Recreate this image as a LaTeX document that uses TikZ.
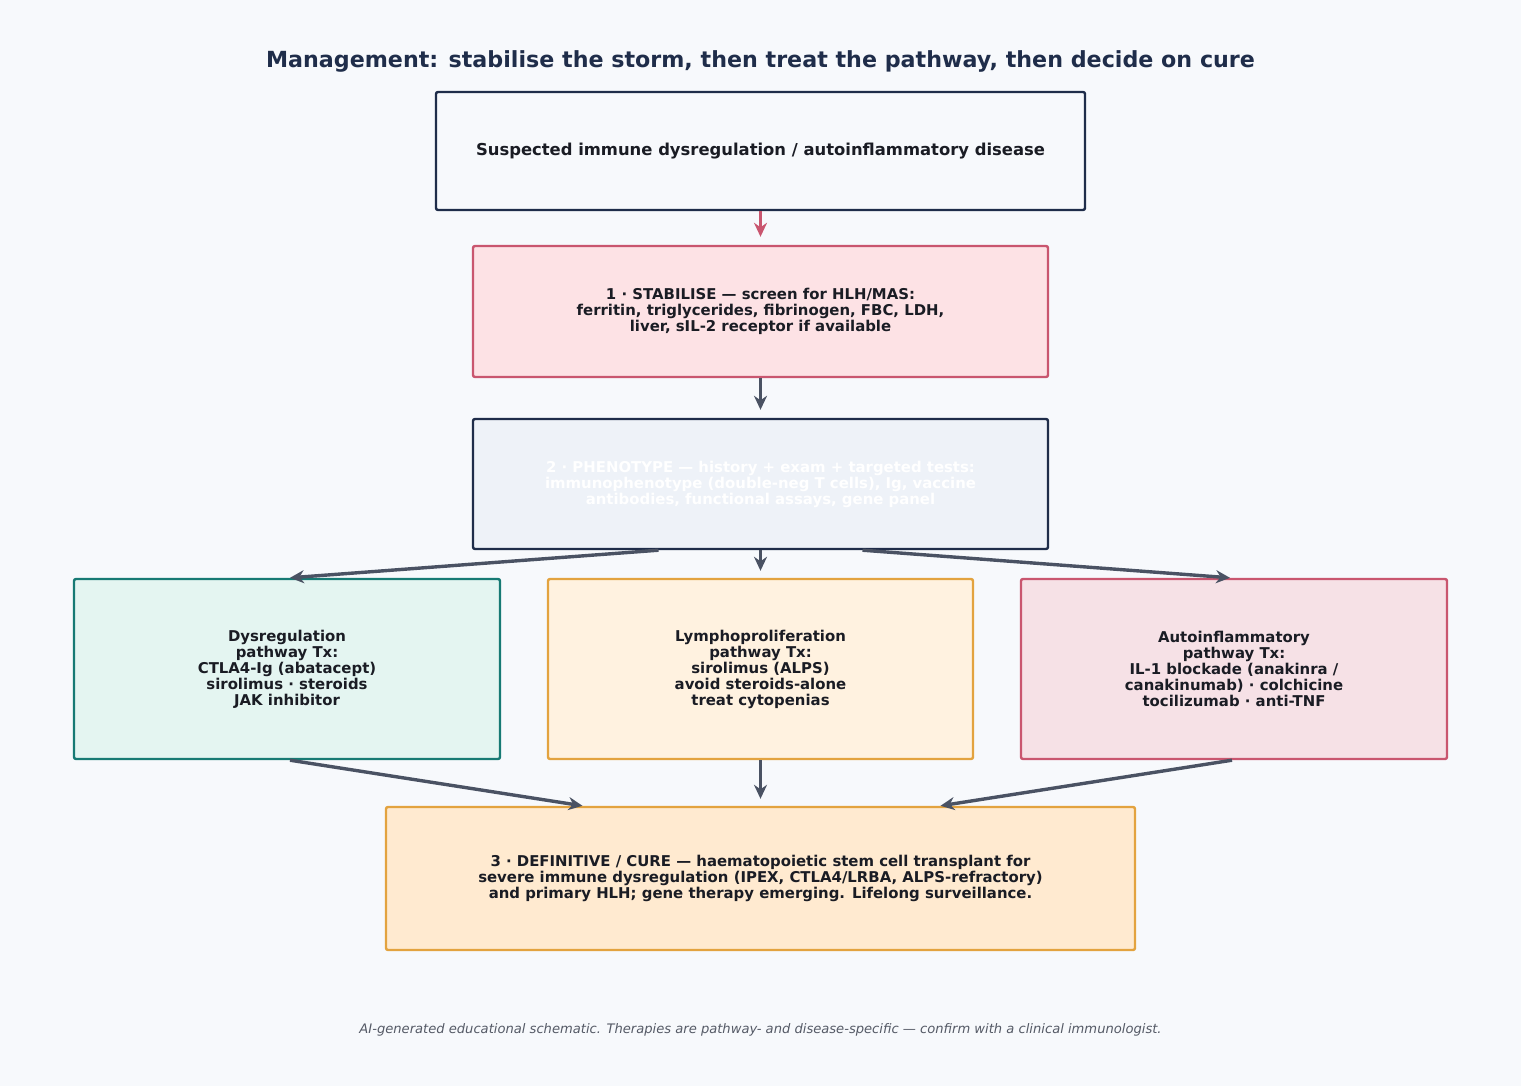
\documentclass[tikz,border=0pt]{standalone}
\usepackage{fontspec}
\setmainfont{DejaVu Sans}
\usetikzlibrary{arrows.meta}
\definecolor{pagebg}{HTML}{F7F9FC}
\definecolor{navy}{HTML}{1F2D4A}
\definecolor{inktext}{HTML}{1A1C24}
\definecolor{rosebd}{HTML}{C9566F}
\definecolor{rosefill}{HTML}{FDE2E5}
\definecolor{phenofill}{HTML}{EEF2F8}
\definecolor{tealbd}{HTML}{177A74}
\definecolor{tealfill}{HTML}{E4F5F1}
\definecolor{amberbd}{HTML}{E3A33F}
\definecolor{amberfill}{HTML}{FFF2E0}
\definecolor{pinkfill}{HTML}{F6E1E6}
\definecolor{curefill}{HTML}{FFEAD0}
\definecolor{arrowgrey}{HTML}{4A5263}
\definecolor{footgrey}{HTML}{555A66}

\begin{document}
\begin{tikzpicture}[
x=0.5pt, y=-0.5pt,
box/.style={rectangle,draw,rounded corners=1pt,line width=1.2pt,align=center,
  inner sep=0pt,font=\fontsize{7.45}{8}\bfseries\selectfont,text=inktext},
flow/.style={-{Stealth[length=7pt,width=6.5pt]},line width=1.7pt,draw=arrowgrey}
]

\fill[pagebg] (0,0) rectangle (1521,1086);

\node[font=\fontsize{11.1}{13}\bfseries\selectfont,text=navy] (title) at (760.5,61)
  {Management: stabilise the storm, then treat the pathway, then decide on cure};

\node[box, draw=navy, fill=pagebg, font=\fontsize{8.2}{9}\bfseries\selectfont,
  minimum width=324.5pt, minimum height=59pt] (suspected) at (760.5,151)
  {Suspected immune dysregulation / autoinflammatory disease};
\node[box, draw=rosebd, fill=rosefill, minimum width=287.5pt, minimum height=65.5pt] (stabilise) at (760.5,311.5)
  {1 · STABILISE — screen for HLH/MAS:\\ferritin, triglycerides, fibrinogen, FBC, LDH,\\liver, sIL-2 receptor if available};
\node[box, draw=navy, fill=phenofill, text=white, minimum width=287.5pt, minimum height=65pt] (phenotype) at (760.5,484)
  {2 · PHENOTYPE — history + exam + targeted tests:\\immunophenotype (double-neg T cells), Ig, vaccine\\antibodies, functional assays, gene panel};

\node[box, draw=tealbd, fill=tealfill, minimum width=213pt, minimum height=90pt] (dysreg) at (287,669)
  {Dysregulation\\pathway Tx:\\CTLA4-Ig (abatacept)\\sirolimus · steroids\\JAK inhibitor};
\node[box, draw=amberbd, fill=amberfill, minimum width=212.5pt, minimum height=90pt] (lympho) at (760.5,669)
  {Lymphoproliferation\\pathway Tx:\\sirolimus (ALPS)\\avoid steroids-alone\\treat cytopenias};
\node[box, draw=rosebd, fill=pinkfill, minimum width=213pt, minimum height=90pt] (autoinfl) at (1234,669)
  {Autoinflammatory\\pathway Tx:\\IL-1 blockade (anakinra /\\canakinumab) · colchicine\\tocilizumab · anti-TNF};

\node[box, draw=amberbd, fill=curefill, minimum width=374.5pt, minimum height=71.5pt] (definitive) at (760.5,878.5)
  {3 · DEFINITIVE / CURE — haematopoietic stem cell transplant for\\severe immune dysregulation (IPEX, CTLA4/LRBA, ALPS-refractory)\\and primary HLH; gene therapy emerging. Lifelong surveillance.};

\node[font=\fontsize{6.55}{7.5}\itshape\selectfont,text=footgrey] (footer) at (760.5,1030)
  {AI-generated educational schematic. Therapies are pathway- and disease-specific — confirm with a clinical immunologist.};

\draw[flow, draw=rosebd, line width=1.4pt, shorten >=4pt] (suspected) -- (stabilise);
\draw[flow, shorten >=4pt] (stabilise) -- (phenotype);
\draw[flow] ([xshift=-51pt]phenotype.south) -- ([xshift=1.5pt]dysreg.north);
\draw[flow, shorten >=3.5pt] (phenotype) -- (lympho);
\draw[flow] ([xshift=51pt]phenotype.south) -- ([xshift=-2pt]autoinfl.north);
\draw[flow] ([xshift=1.5pt]dysreg.south) -- ([xshift=-89pt]definitive.north);
\draw[flow, shorten >=3.5pt] (lympho) -- (definitive);
\draw[flow] ([xshift=-1pt]autoinfl.south) -- ([xshift=90pt]definitive.north);

\end{tikzpicture}
\end{document}
